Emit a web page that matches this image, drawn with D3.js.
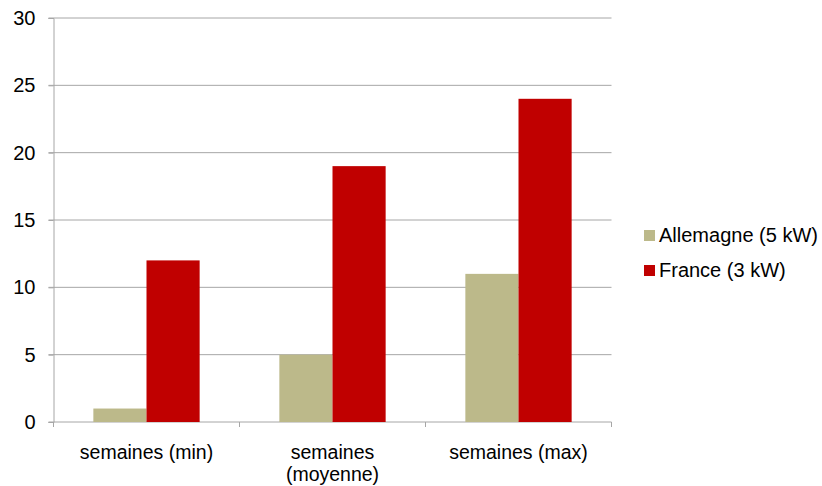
<!DOCTYPE html>
<html>
<head>
<meta charset="utf-8">
<script src="https://cdn.jsdelivr.net/npm/d3@7"></script>
<style>
  body { margin: 0; background: #fff; }
  text { font-family: "Liberation Sans", Arial, sans-serif; fill: #000; }
</style>
</head>
<body>
<script>
// chart data
const categories = [["semaines (min)"], ["semaines", "(moyenne)"], ["semaines (max)"]]
const series = ["Allemagne (5 kW)", "France (3 kW)"]
const allemagne = [1, 5, 11]
const france = [12, 19, 24]
const yTicks = [0, 5, 10, 15, 20, 25, 30]
const colors = ["#bcb98a", "#c00000"]

const width = 822, height = 486
const plotLeft = 53.5, plotRight = 611.5, plotTop = 18, plotBottom = 422

const svg = d3.select("body").append("svg")
  .attr("width", width).attr("height", height)

const x0 = d3.scaleBand().domain(d3.range(categories.length)).range([plotLeft, plotRight])
// excel style: gap width 150% -> 2 bars + 1.5 bar gap
const bw = x0.bandwidth() / 3.5
const y = d3.scaleLinear().domain([0, 30]).range([plotBottom, plotTop])

// gridlines
svg.append("g").selectAll("line").data(yTicks.filter(d => d > 0)).enter().append("line")
  .attr("x1", plotLeft - 5).attr("x2", plotRight)
  .attr("y1", d => y(d)).attr("y2", d => y(d))
  .attr("stroke", "#a6a6a6").attr("stroke-width", 1)

// y axis
const yAxis = d3.axisLeft(y).tickValues(yTicks).tickSize(5).tickPadding(13)
const gy = svg.append("g").attr("transform", `translate(${plotLeft},0)`).call(yAxis)
gy.select(".domain").attr("stroke", "#a6a6a6")
gy.selectAll(".tick line").attr("stroke", "#a6a6a6")
gy.selectAll(".tick text").style("font-size", "20px").attr("fill", "#000")
  .attr("font-family", "Liberation Sans, Arial, sans-serif")

// x axis line + boundary ticks
svg.append("line").attr("x1", plotLeft - 5).attr("x2", plotRight)
  .attr("y1", plotBottom).attr("y2", plotBottom).attr("stroke", "#a6a6a6")
svg.append("g").selectAll("line").data(d3.range(categories.length + 1)).enter().append("line")
  .attr("x1", d => plotLeft + d * x0.step()).attr("x2", d => plotLeft + d * x0.step())
  .attr("y1", plotBottom).attr("y2", plotBottom + 5).attr("stroke", "#a6a6a6")

// bars
const groups = svg.append("g").selectAll("g").data(d3.range(categories.length)).enter().append("g")
groups.selectAll("rect").data(i => [allemagne[i], france[i]].map((v, j) => ({ i, j, v }))).enter().append("rect")
  .attr("x", d => x0(d.i) + 0.75 * bw + d.j * bw)
  .attr("width", bw)
  .attr("y", d => y(d.v))
  .attr("height", d => y(0) - y(d.v))
  .attr("fill", d => colors[d.j])

// category labels, one text per line
const labelLines = categories.flatMap((lines, i) => lines.map((t, k) => ({ i, k, t })))
svg.append("g").selectAll("text").data(labelLines).enter().append("text")
  .attr("text-anchor", "middle")
  .attr("x", d => x0(d.i) + x0.bandwidth() / 2)
  .attr("y", d => 459 + d.k * 22)
  .style("font-size", "19.5px")
  .text(d => d.t)

// legend
const lg = svg.append("g").selectAll("g").data(series).enter().append("g")
  .attr("transform", (d, i) => `translate(644,${230 + i * 35})`)
lg.append("rect").attr("width", 11).attr("height", 11).attr("fill", (d, i) => colors[i])
lg.append("text").attr("x", 15).attr("y", 12).style("font-size", "20px").text(d => d)
</script>
</body>
</html>
